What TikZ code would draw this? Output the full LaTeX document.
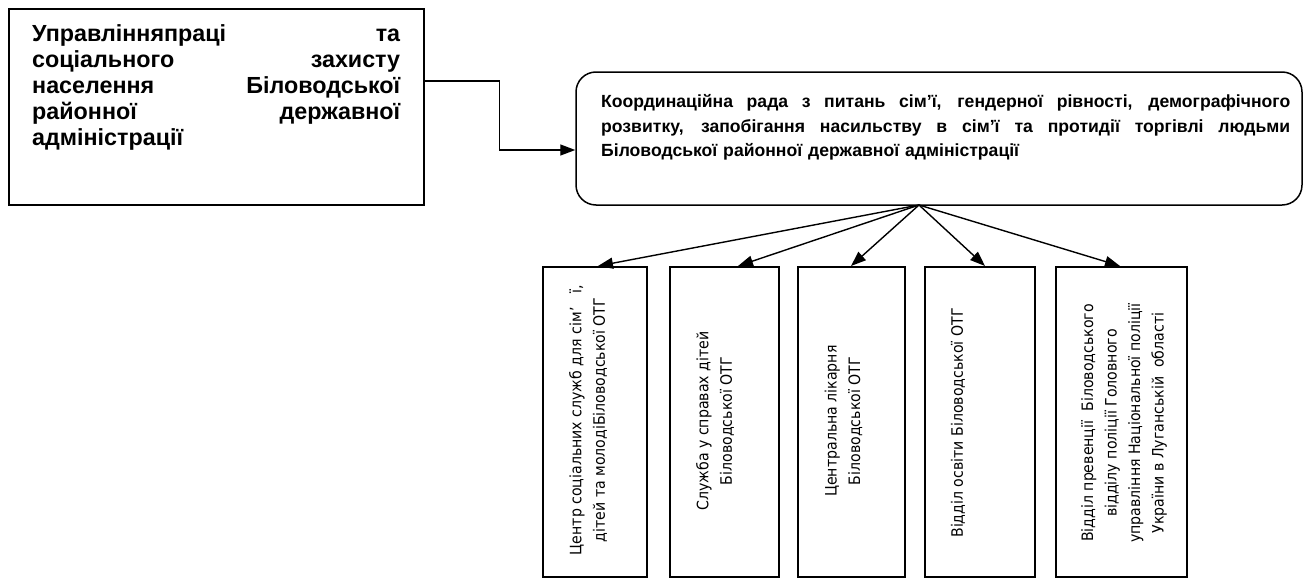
\documentclass[tikz,border=0pt]{standalone}
\usepackage{fontspec}
\setmainfont{Liberation Sans}
\newfontfamily\dvfont[FakeStretch=0.9]{DejaVu Sans}
\usetikzlibrary{arrows.meta}
\newcommand\jline[2]{\leavevmode\hbox to #1{\spaceskip=0.28em plus 1fill\relax\xspaceskip=0.28em plus 1fill\relax #2}}
\begin{document}
\begin{tikzpicture}[x=1pt,y=-1pt,
  boxline/.style={draw=black,line width=1.5pt},
  arr/.style={draw=black,line width=1.4pt,-{Triangle[length=15pt,width=11pt]}},
  vtext/.style={rotate=90,align=center,inner sep=0pt,font=\dvfont\fontsize{15.7}{23.5}\selectfont}]
\useasboundingbox (0,0) rectangle (1311,578);
% left box
\node[boxline,rectangle,minimum width=415pt,minimum height=196pt,inner sep=0pt] (upr) at (216.5,107) {};
\node[anchor=north west,inner sep=0pt,text width=368pt,align=left,
  font=\bfseries\fontsize{23.3}{26}\selectfont] (uprtext) at (32,24)
  {\jline{368pt}{Управлінняпраці та}\\
   \jline{368pt}{соціального захисту}\\
   \jline{368pt}{населення Біловодської}\\
   \jline{368pt}{районної державної}\\
   адміністрації};
% council box
\node[boxline,rectangle,rounded corners=20pt,minimum width=726pt,minimum height=133pt,inner sep=0pt] (rada) at (939,138.5) {};
\node[anchor=north west,inner sep=0pt,text width=689pt,align=left,
  font=\bfseries\fontsize{17.6}{24.8}\selectfont] (radatext) at (601,94)
  {\jline{689pt}{Координаційна рада з питань сім’ї, гендерної рівності, демографічного}\\
   \jline{689pt}{розвитку, запобігання насильству в сім’ї та протидії торгівлі людьми}\\
   Біловодської районної державної адміністрації};
% connector
\draw[arr] ([yshift=26pt]upr.east) -- ++(75,0) |- ([yshift=-11.5pt]rada.west);
% bottom boxes
\node[boxline,rectangle,minimum width=104pt,minimum height=310pt,inner sep=0pt] (b1) at (595,422) {};
\node[boxline,rectangle,minimum width=109pt,minimum height=310pt,inner sep=0pt] (b2) at (724.5,422) {};
\node[boxline,rectangle,minimum width=107pt,minimum height=310pt,inner sep=0pt] (b3) at (851.5,422) {};
\node[boxline,rectangle,minimum width=110pt,minimum height=310pt,inner sep=0pt] (b4) at (980,422) {};
\node[boxline,rectangle,minimum width=131pt,minimum height=310pt,inner sep=0pt] (b5) at (1121.5,422) {};
\node[vtext] (t1) at (588,420) {Центр соціальних служб для сім’\hspace{0.9em}ї,\\дітей та молодіБіловодської ОТГ};
\node[vtext] (t2) at (715,421) {Служба у справах дітей\\Біловодської ОТГ};
\node[vtext] (t3) at (843.5,421) {Центральна лікарня\\Біловодської ОТГ};
\node[vtext] (t4) at (958,423) {Відділ освіти Біловодської ОТГ};
\node[vtext] (t5) at (1124,423) {Відділ превенції\ \ Біловодського\\відділу поліції Головного\\управління Національної поліції\\України в Луганській\ \ області};
% fan arrows
\coordinate (fan) at (919,205);
\coordinate (e1) at (598,266);
\coordinate (e2) at (738,266);
\coordinate (e3) at (851,266);
\coordinate (e4) at (985,266);
\coordinate (e5) at (1120,266);
\draw[arr] (fan) -- (e1);
\draw[arr] (fan) -- (e2);
\draw[arr] (fan) -- (e3);
\draw[arr] (fan) -- (e4);
\draw[arr] (fan) -- (e5);
\end{tikzpicture}
\end{document}
